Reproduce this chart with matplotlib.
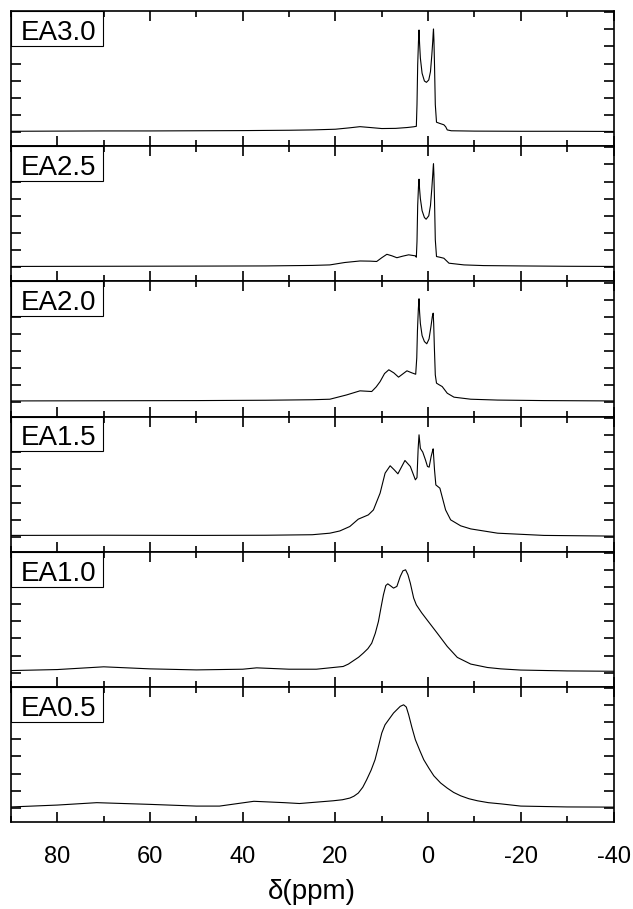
import matplotlib
matplotlib.use("Agg")
import matplotlib.pyplot as plt
from matplotlib.patches import Rectangle
from matplotlib.ticker import MultipleLocator

plt.rcParams["font.family"] = ["Liberation Sans", "DejaVu Sans"]
plt.rcParams["axes.unicode_minus"] = False

# sample names, top panel first
labels = ["EA3.0", "EA2.5", "EA2.0", "EA1.5", "EA1.0", "EA0.5"]

# chemical shift (ppm) / intensity (arb., one unit = one y tick)
ppm_ea30 = [90, 80, 70, 60, 50, 40, 30, 25, 20, 17, 14.7, 12.5, 10, 7, 4.5, 3.2,
            2.54, 2.4, 2.25, 2.08, 1.96, 1.85, 1.67, 1.30, 0.80, 0.36, -0.14, -0.51,
            -0.80, -1.0, -1.10, -1.16, -1.25, -1.38, -1.55, -1.81, -2.5, -3.4, -3.8,
            -4.13, -5, -10, -20, -30, -40]
int_ea30 = [0.04, 0.05, 0.06, 0.06, 0.07, 0.08, 0.10, 0.12, 0.16, 0.24, 0.31, 0.26,
            0.20, 0.21, 0.26, 0.30, 0.33, 1.6, 3.92, 5.3, 5.96, 5.2, 4.31, 3.43, 2.98,
            2.90, 3.04, 3.53, 4.50, 5.3, 5.8, 6.02, 5.4, 3.92, 1.6, 0.57, 0.50, 0.42,
            0.30, 0.12, 0.07, 0.05, 0.04, 0.04, 0.03]

ppm_ea25 = [90, 70, 50, 35, 25, 21.2, 18, 14.7, 12.5, 11.1, 10, 8.9, 7.8, 6.74, 5.5,
            4.2, 2.75, 2.54, 2.4, 2.25, 2.08, 1.96, 1.85, 1.67, 1.30, 0.80, 0.43,
            -0.14, -0.51, -0.80, -1.0, -1.10, -1.16, -1.25, -1.38, -1.55, -1.81, -2.5,
            -3.4, -4.5, -7.75, -12, -20, -30, -40]
int_ea25 = [0.04, 0.05, 0.06, 0.07, 0.10, 0.13, 0.27, 0.36, 0.35, 0.33, 0.55, 0.75,
            0.66, 0.55, 0.64, 0.72, 0.66, 0.58, 1.5, 3.6, 4.7, 5.14, 4.6, 4.0, 3.3,
            2.9, 2.80, 3.0, 3.6, 4.6, 5.4, 5.85, 6.04, 5.4, 3.9, 1.6, 0.62, 0.58, 0.52,
            0.23, 0.13, 0.09, 0.07, 0.05, 0.04]

ppm_ea20 = [90, 70, 50, 35, 25, 21.2, 17.6, 14.7, 12.17, 11.2, 10.36, 9.4, 8.48, 7.4,
            6.38, 5.5, 4.57, 3.5, 2.68, 2.45, 2.3, 2.1, 1.96, 1.85, 1.67, 1.30, 0.80,
            0.29, -0.2, -0.6, -0.9, -1.09, -1.2, -1.35, -1.55, -1.81, -2.4, -3.04,
            -4.13, -5.58, -9.2, -15, -25, -40]
int_ea20 = [0.08, 0.09, 0.10, 0.12, 0.15, 0.18, 0.43, 0.67, 0.63, 0.90, 1.21, 1.68,
            1.90, 1.72, 1.47, 1.65, 1.84, 1.72, 1.64, 2.6, 4.2, 5.5, 6.05, 5.3, 4.6,
            3.9, 3.55, 3.42, 3.7, 4.4, 5.0, 5.21, 4.6, 3.2, 1.6, 1.12, 1.02, 0.92, 0.53,
            0.30, 0.18, 0.13, 0.10, 0.08]

ppm_ea15 = [90, 70, 50, 35, 25, 21.2, 19.06, 16.9, 15.07, 12.9, 11.8, 10.36, 9.28,
            8.19, 7.3, 6.52, 5.0, 3.84, 2.75, 2.4, 2.15, 1.96, 1.67, 1.16, 0.58, 0.14,
            -0.22, -0.65, -0.9, -1.09, -1.38, -1.67, -2.54, -3.77, -4.86, -7.03, -9.2,
            -15, -25, -40]
int_ea15 = [0.12, 0.13, 0.12, 0.13, 0.16, 0.25, 0.38, 0.64, 1.07, 1.32, 1.61, 2.59,
            3.76, 4.19, 3.95, 3.72, 4.50, 4.15, 3.37, 3.5, 5.2, 6.00, 5.2, 4.99, 4.54,
            4.15, 4.11, 4.73, 5.0, 5.18, 3.95, 3.07, 2.88, 1.61, 1.03, 0.68, 0.50, 0.25,
            0.12, 0.08]

ppm_ea10 = [90, 80, 70, 60, 50, 40, 37, 30, 24.1, 18.33, 17.2, 16.16, 15, 13.99, 13,
            12.17, 11.4, 10.72, 10.1, 9.64, 9.13, 8.7, 8.19, 7.46, 6.74, 6.01, 5.43,
            4.86, 4.35, 3.84, 3.12, 2.54, 1.4, 0.22, -1.96, -4.13, -6.3, -9.2, -12.8,
            -15.7, -20, -30, -40]
int_ea10 = [0.12, 0.18, 0.34, 0.22, 0.16, 0.20, 0.28, 0.20, 0.20, 0.36, 0.50, 0.69,
            0.90, 1.14, 1.40, 1.72, 2.30, 2.99, 3.90, 4.55, 5.09, 5.19, 5.09, 4.94,
            5.04, 5.62, 5.95, 6.01, 5.72, 5.23, 4.36, 3.96, 3.50, 3.08, 2.31, 1.53,
            0.89, 0.50, 0.30, 0.22, 0.15, 0.10, 0.08]

ppm_ea05 = [90, 80, 71.5, 60, 50, 45, 37.6, 31, 27.75, 20.5, 18.5, 16.88, 16, 15.07,
            14.1, 13.26, 12.3, 11.45, 10.7, 10, 9.3, 8.77, 7.46, 6.01, 5.29, 4.71, 4.2,
            3.5, 2.75, 1.8, 0.94, -0.2, -1.23, -2.7, -4.13, -5.5, -7.03, -8.8, -10.65,
            -13, -15.7, -20, -30, -40]
int_ea05 = [0.05, 0.16, 0.30, 0.20, 0.10, 0.10, 0.38, 0.30, 0.25, 0.41, 0.47, 0.57,
            0.68, 0.86, 1.20, 1.64, 2.20, 2.81, 3.60, 4.37, 4.85, 5.05, 5.54, 5.93,
            6.02, 5.89, 5.44, 4.70, 3.98, 3.35, 2.81, 2.30, 1.87, 1.45, 1.15, 0.90,
            0.70, 0.53, 0.41, 0.30, 0.23, 0.10, 0.05, 0.04]

spectra = [(ppm_ea30, int_ea30), (ppm_ea25, int_ea25), (ppm_ea20, int_ea20),
           (ppm_ea15, int_ea15), (ppm_ea10, int_ea10), (ppm_ea05, int_ea05)]

W, H = 633, 909
fig, axes = plt.subplots(6, 1, sharex=True, figsize=(W / 100, H / 100), dpi=100,
                         gridspec_kw={"hspace": 0})
fig.subplots_adjust(left=11 / W, right=613.5 / W, top=1 - 11 / H, bottom=1 - 822 / H)

for ax, name, (x, y) in zip(axes, labels, spectra):
    ax.plot(x, y, color="black", lw=0.8)
    ax.set_ylim(-0.83, 7.07)
    ax.yaxis.set_major_locator(MultipleLocator(1))
    ax.set_yticklabels([])
    ax.xaxis.set_major_locator(MultipleLocator(20))
    ax.xaxis.set_minor_locator(MultipleLocator(10))
    ax.tick_params(axis="both", which="both", direction="in", top=True, right=True,
                   width=1.2)
    ax.tick_params(axis="both", which="major", length=7.5)
    ax.tick_params(axis="x", which="minor", length=4)
    ax.tick_params(axis="x", labelsize=17, pad=17)
    for sp in ax.spines.values():
        sp.set_linewidth(1.2)
    # sample label in a boxed corner
    ax.add_patch(Rectangle((0, 1 - 35 / 135.2), 92 / 602.5, 35 / 135.2,
                           transform=ax.transAxes, facecolor="white",
                           edgecolor="black", lw=0.8, zorder=5))
    ax.text(9.5 / 602.5, 1 - 29 / 135.2, name, transform=ax.transAxes,
            ha="left", va="baseline", fontsize=20, zorder=6)

axes[-1].set_xlim(90, -40)
axes[-1].set_xlabel("δ(ppm)", fontsize=20, labelpad=8)

fig.savefig("out.png", dpi=100)
